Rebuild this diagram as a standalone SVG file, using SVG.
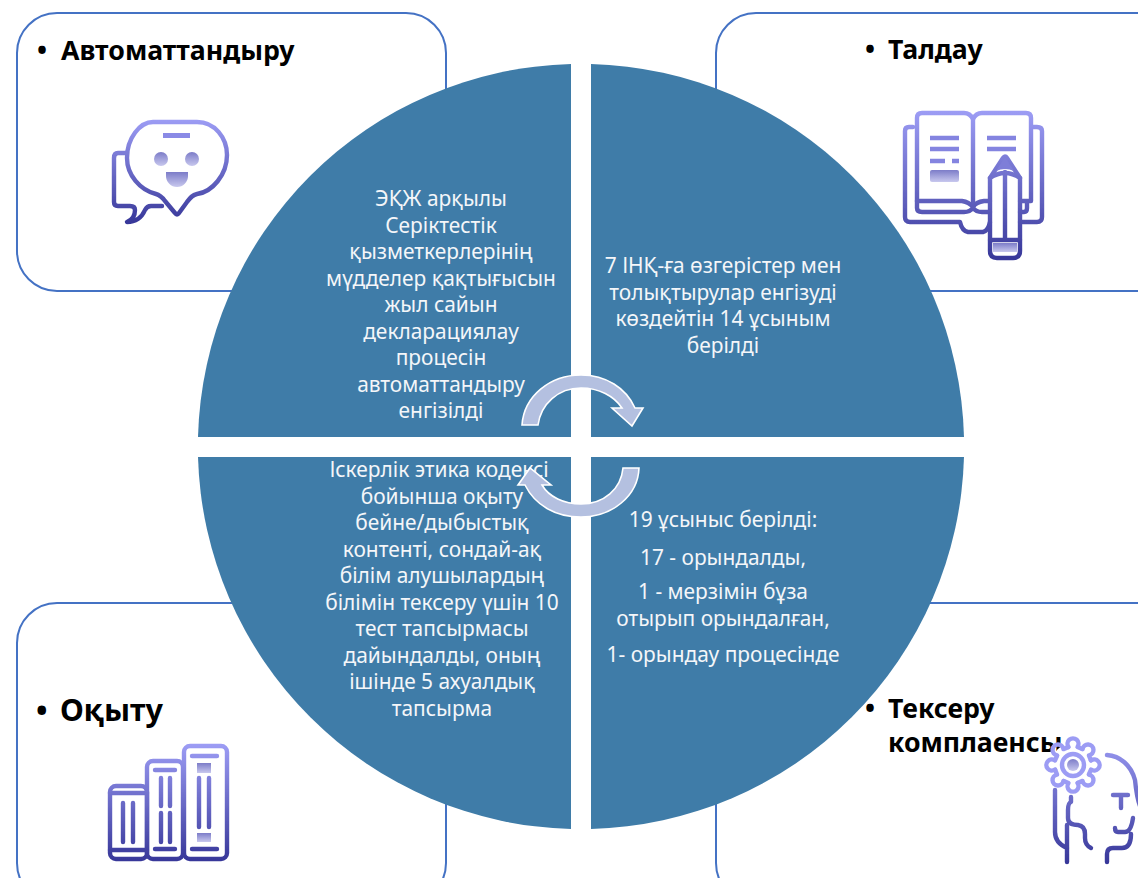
<svg xmlns="http://www.w3.org/2000/svg" xmlns:xlink="http://www.w3.org/1999/xlink" width="1138" height="878" viewBox="0 0 1138 878">
<style>
.box{fill:#fff;stroke:#4472c4;stroke-width:2}
.head{font-family:"Noto Sans","Open Sans",sans-serif;font-weight:700;fill:#000}
.body{font-family:"Noto Sans","Open Sans",sans-serif;font-size:20.9px;fill:#f4f6f9;text-anchor:middle}
.q{fill:#3f7ca8}
.arc{fill:#b4c0e0;stroke:#fff;stroke-width:1.6;stroke-linejoin:miter}
.i{fill:none;stroke-width:4.4;stroke-linecap:round;stroke-linejoin:round}
.t{stroke-width:4.4;fill:none}
.fade{stroke:none;fill:url(#fade)}
.blur{filter:url(#soft)}
</style>
<defs>
<filter id="soft" x="-5%" y="-5%" width="110%" height="110%"><feGaussianBlur stdDeviation="0.7"/></filter>
<linearGradient id="fade" x1="0" y1="0" x2="0" y2="1"><stop offset="0" stop-color="#7c7cc8"/><stop offset="1" stop-color="#c8c8ee"/></linearGradient>
<linearGradient id="g1" gradientUnits="userSpaceOnUse" x1="0" y1="120" x2="0" y2="222"><stop offset="0" stop-color="#9c9cf4"/><stop offset="1" stop-color="#38389a"/></linearGradient>
<linearGradient id="g2" gradientUnits="userSpaceOnUse" x1="0" y1="112" x2="0" y2="258"><stop offset="0" stop-color="#9c9cf4"/><stop offset="1" stop-color="#38389a"/></linearGradient>
<linearGradient id="g3" gradientUnits="userSpaceOnUse" x1="0" y1="745" x2="0" y2="860"><stop offset="0" stop-color="#9c9cf4"/><stop offset="1" stop-color="#38389a"/></linearGradient>
<linearGradient id="g4" gradientUnits="userSpaceOnUse" x1="0" y1="738" x2="0" y2="862"><stop offset="0" stop-color="#9c9cf4"/><stop offset="1" stop-color="#38389a"/></linearGradient>
<path id="tooth" d="M-4.5 -18 A5.5 5.5 0 1 1 4.5 -18 L9.2 -16"/>
</defs>
<rect width="1138" height="878" fill="#fff"/>

<g id="node-automation">
<rect class="box" x="17" y="13" width="429" height="278" rx="40"/>
<text class="head" x="37" y="60" font-size="26.7">•</text>
<text class="head" x="61" y="60" font-size="26.7">Автоматтандыру</text>
<g class="blur">
<g class="i" stroke="url(#g1)">
<path d="M153 122H197C215 122 227 138 227 155C227 175 212 192 197 194C192 195 190 198 187 202L179 213Q177 216 175 213L165 201C162 197 160 195 156 194C140 190 127 175 127 158C127 138 140 122 153 122Z"/>
<path d="M127 153H118Q114 153 114 158V202Q114 206 118 206H130Q135 206 135 210C135 216 132 220 127 222C137 222 142 217 145 210Q147 206 151 206H162"/>
</g>
<rect x="163" y="133" width="27" height="5" fill="#8a8ae6"/>
<circle class="fade" cx="161" cy="159" r="7"/>
<circle class="fade" cx="192" cy="159" r="7"/>
<path class="fade" d="M166 172H188V176A11 11 0 0 1 166 176Z"/>
</g>
</g>

<g id="node-analysis">
<rect class="box" x="716" y="13" width="460" height="278" rx="40"/>
<text class="head" x="865" y="59" font-size="26.7">•</text>
<text class="head" x="888" y="59" font-size="26.7">Талдау</text>
<g class="blur">
<g class="i" stroke="url(#g2)">
<path d="M917 201V118Q917 113 922 113H964Q970 113 973 119Q976 113 982 113H1026Q1031 113 1031 118V201H1020"/>
<path d="M973 119V205"/>
<path d="M917 201H962Q969 202 973 207Q976 202 984 201H990"/>
<path d="M917 201V208Q917 212 922 212H964Q970 212 973 208Q976 212 982 212H990"/>
<path d="M1020 212H1024Q1027 212 1027 208V203"/>
<path d="M913 127H909Q905 127 905 131V217Q905 222 910 222H960Q962 231 968 232H983Q988 231 990 222"/>
<path d="M1032 127H1037Q1042 127 1042 131V217Q1042 222 1037 222H1020"/>
<path d="M990 178L1003 158Q1005 155 1007 158L1020 178V251Q1020 258 1013 258H997Q990 258 990 251Z"/>
<path d="M990 178Q1005 168 1020 178"/>
<path d="M1005 172V238"/>
<path d="M990 240H1020"/>
</g>
<path d="M1005 157L996 171Q1005 167 1014 171Z" fill="#7e7ed8"/>
<g class="t" stroke="#8484e0">
<path d="M930 138H959M930 149H959M930 161H945M952 161H959M987 138H1016M987 149H1016"/>
</g>
<rect class="fade" x="930" y="170" width="29" height="12" rx="2"/>
<rect class="fade" x="993" y="243" width="24" height="9"/>
</g>
</g>

<g id="node-training">
<rect class="box" x="17" y="603" width="429" height="300" rx="40"/>
<text class="head" x="36" y="721" font-size="30.6">•</text>
<text class="head" x="60" y="721" font-size="30.6">Оқыту</text>
<g class="blur">
<g class="i" stroke="url(#g3)">
<rect x="110" y="786" width="37" height="73" rx="6"/>
<rect x="147" y="761" width="36" height="98" rx="6"/>
<rect x="184" y="746" width="43" height="113" rx="6"/>
<path d="M110 793H147M110 850H147M123 803V842M133 803V842"/>
<path d="M155 770H175M155 849H175M161 778V806M170 778V806M161 813V842M170 813V842"/>
<path d="M192 756H217M192 849H217M199 778V827M209 778V827"/>
</g>
<rect class="fade" x="197" y="763" width="14" height="10"/>
<rect class="fade" x="197" y="833" width="14" height="9"/>
</g>
</g>

<g id="node-compliance">
<rect class="box" x="716" y="603" width="460" height="300" rx="40"/>
<text class="head" x="865" y="718" font-size="26.7">•</text>
<text class="head" x="888" y="718" font-size="26.7">Тексеру</text>
<text class="head" x="888" y="752" font-size="26.7">комплаенсы</text>
<g class="blur">
<circle cx="1073" cy="765" r="22" fill="#fff"/>
<g class="i" stroke="url(#g4)">
<g transform="translate(1073 765)">
<use xlink:href="#tooth"/>
<use xlink:href="#tooth" transform="rotate(45)"/>
<use xlink:href="#tooth" transform="rotate(90)"/>
<use xlink:href="#tooth" transform="rotate(135)"/>
<use xlink:href="#tooth" transform="rotate(180)"/>
<use xlink:href="#tooth" transform="rotate(225)"/>
<use xlink:href="#tooth" transform="rotate(270)"/>
<use xlink:href="#tooth" transform="rotate(315)"/>
<circle r="11"/>
</g>
<path d="M1107 755C1120 756 1131 765 1135 780C1136 790 1137 798 1140 806"/>
<path d="M1113 795H1128M1121 795V808"/>
<path d="M1133 818Q1131 832 1125 832H1118Q1115 832 1115 828M1131 834Q1131 848 1122 848H1113Q1107 848 1107 854V862"/>
<path d="M1055 790V832Q1055 843 1067 848V862"/>
<path d="M1071 797V802Q1068 803 1068 810V818Q1068 825 1078 825Q1085 826 1085 834V838Q1085 845 1091 848M1067 825V848"/>
</g>
<circle class="fade" cx="1073" cy="765" r="6"/>
</g>
</g>

<g id="node-pie">
<path class="q" d="M571 64V437H198A383 383 0 0 1 571 64Z"/>
<path class="q" d="M591 64A383 383 0 0 1 964 437H591Z"/>
<path class="q" d="M198 457H571V829A383 383 0 0 1 198 457Z"/>
<path class="q" d="M591 457H964A383 383 0 0 1 591 829Z"/>
<g class="body">
<text x="441" y="206">ЭҚЖ арқылы</text>
<text x="441" y="233">Серіктестік</text>
<text x="441" y="259">қызметкерлерінің</text>
<text x="441" y="286">мүдделер қақтығысын</text>
<text x="441" y="312">жыл сайын</text>
<text x="441" y="339">декларациялау</text>
<text x="441" y="365">процесін</text>
<text x="441" y="392">автоматтандыру</text>
<text x="441" y="418">енгізілді</text>
<text x="723" y="273">7 ІНҚ-ға өзгерістер мен</text>
<text x="723" y="299.5">толықтырулар енгізуді</text>
<text x="723" y="326">көздейтін 14 ұсыным</text>
<text x="723" y="352.5">берілді</text>
<text x="439" y="477">Іскерлік этика кодексі</text>
<text x="442" y="504">бойынша оқыту</text>
<text x="442" y="530">бейне/дыбыстық</text>
<text x="442" y="557">контенті, сондай-ақ</text>
<text x="442" y="583">білім алушылардың</text>
<text x="442" y="610">білімін тексеру үшін 10</text>
<text x="442" y="636">тест тапсырмасы</text>
<text x="442" y="662.5">дайындалды, оның</text>
<text x="442" y="689">ішінде 5 ахуалдық</text>
<text x="442" y="715.5">тапсырма</text>
<text x="723" y="527">19 ұсыныс берілді:</text>
<text x="723" y="565">17 - орындалды,</text>
<text x="723" y="599">1 - мерзімін бұза</text>
<text x="723" y="626">отырып орындалған,</text>
<text x="723" y="662">1- орындау процесінде</text>
</g>
</g>

<g id="connectors">
<path class="arc" d="M522 425C524 396 550 375 581 375C606 375 626 388 635 408H643L632 426L612 408H622C614 396 599 388 581 388C558 388 541 404 538 425Z"/>
<path class="arc" d="M639 468C638 496 612 517 581 517C555 517 535 505 525 485H518L530 468L551 485H542C549 497 564 504 581 504C604 504 621 489 623 468Z"/>
</g>
</svg>
